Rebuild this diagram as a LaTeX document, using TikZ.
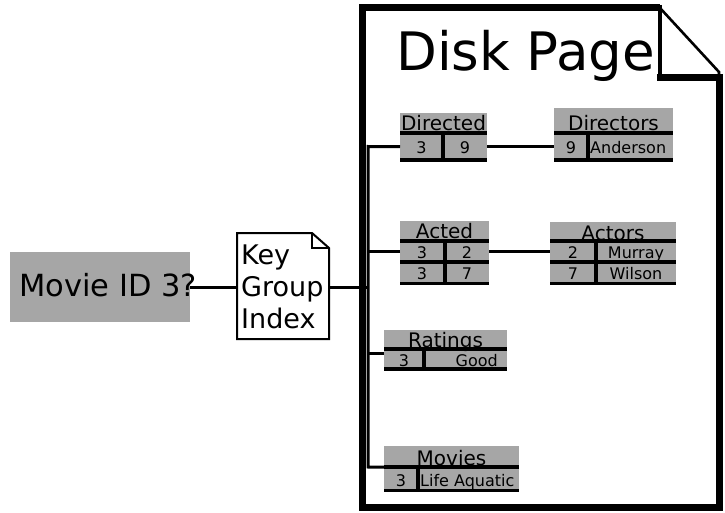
\documentclass[tikz,border=0pt]{standalone}
\usepackage{fontspec}
\setmainfont{DejaVu Sans}
\begin{document}
\begin{tikzpicture}[x=1pt,y=-1pt,
  tab/.style={fill=black!35, draw=none, inner sep=0pt, anchor=north west},
  rowbox/.style={draw=none, inner sep=0pt, anchor=north west},
  hdr/.style={font=\fontsize{20}{20}\selectfont, inner sep=0pt, anchor=base},
  val/.style={font=\fontsize{16}{16}\selectfont, inner sep=0pt, anchor=base},
  kgitx/.style={font=\fontsize{27}{27}\selectfont, inner sep=0pt, anchor=base west},
  tline/.style={line width=3.4pt},
  conn/.style={line width=3pt},
  thick page/.style={line width=7pt, line join=miter},
]
\useasboundingbox (0,0) rectangle (725,513);

% Disk page
\draw[thick page] (660,8) -- (362,8) -- (362,507) -- (719,507) -- (719,78) -- (657,78);
\draw[line width=4pt] (660,5) -- (660,81);
\draw[line width=2.6pt] (660,8) -- (719,72) -- (719,80);
\node[font=\fontsize{53}{53}\selectfont, inner sep=0pt, anchor=base west] (title) at (396,71) {Disk Page};

% Movie ID box
\node[tab, minimum width=180pt, minimum height=70pt] (movie) at (10,252) {};
\node[font=\fontsize{30.5}{30}\selectfont, inner sep=0pt, anchor=base west] (movietext) at (19,296) {Movie ID 3?};

% Key Group Index document
\draw[line width=2pt, fill=white] (237,233) -- (312,233) -- (329,248) -- (329,339) -- (237,339) -- cycle;
\draw[line width=1.5pt] (312,233) -- (312,248) -- (329,248);
\node[rowbox, minimum width=92pt, minimum height=106pt] (kgi) at (237,233) {};
\node[kgitx] (kgi1) at (241,264) {Key};
\node[kgitx] (kgi2) at (241,296) {Group};
\node[kgitx] (kgi3) at (241,328) {Index};

% Directed
\node[tab, minimum width=87pt, minimum height=47pt] (directed) at (400,113) {};
\node[rowbox, minimum width=87pt, minimum height=27pt] (dirrow) at (400,133) {};
\node[hdr] (dirh) at (443.5,131) {Directed};
\node[val] (dir3) at (421.5,154) {3};
\node[val] (dir9) at (465,154) {9};
\draw[tline] (400,133) -- (487,133) (400,160) -- (487,160) (443,133) -- (443,160);

% Directors
\node[tab, minimum width=119pt, minimum height=52pt] (directors) at (554,108) {};
\node[rowbox, minimum width=119pt, minimum height=27pt] (dirsrow) at (554,133) {};
\node[hdr] (dirsh) at (613.5,131) {Directors};
\node[val] (dirs9) at (571,154) {9};
\node[val, anchor=base west] (dirsa) at (590,154) {Anderson};
\draw[tline] (554,133) -- (673,133) (554,160) -- (673,160) (588,133) -- (588,160);

% Acted
\node[tab, minimum width=89pt, minimum height=63pt] (acted) at (400,221) {};
\node[rowbox, minimum width=89pt, minimum height=21pt] (actrow) at (400,241) {};
\node[hdr] (acth) at (444.5,238) {Acted};
\node[val] (act31) at (422,258) {3};
\node[val] (act2) at (467,258) {2};
\node[val] (act32) at (422,279) {3};
\node[val] (act7) at (467,279) {7};
\draw[tline] (400,241) -- (489,241) (400,262) -- (489,262) (400,283.5) -- (489,283.5) (445,241) -- (445,283.5);

% Actors
\node[tab, minimum width=126pt, minimum height=62pt] (actors) at (550,222) {};
\node[rowbox, minimum width=126pt, minimum height=21pt] (actsrow) at (550,241) {};
\node[hdr] (actsh) at (613,240) {Actors};
\node[val] (acts2) at (573,258) {2};
\node[val] (actsm) at (636,258) {Murray};
\node[val] (acts7) at (573,279) {7};
\node[val] (actsw) at (636,279) {Wilson};
\draw[tline] (550,241) -- (676,241) (550,262) -- (676,262) (550,283.5) -- (676,283.5) (596,241) -- (596,283.5);

% Ratings
\node[tab, minimum width=123pt, minimum height=39pt] (ratings) at (384,330) {};
\node[rowbox, minimum width=123pt, minimum height=8pt] (ratrow) at (384,349) {};
\node[hdr] (rath) at (445.5,347) {Ratings};
\node[val] (rat3) at (404,366) {3};
\node[val, anchor=base east] (ratg) at (498,366) {Good};
\draw[tline] (384,349) -- (507,349) (384,369) -- (507,369) (424,349) -- (424,369);

% Movies
\node[tab, minimum width=135pt, minimum height=45pt] (movies) at (384,446) {};
\node[rowbox, minimum width=135pt, minimum height=2pt] (movrow) at (384,466) {};
\node[hdr] (movh) at (451.5,465) {Movies};
\node[val] (mov3) at (401,486) {3};
\node[val, anchor=base west] (movl) at (420,486) {Life Aquatic};
\draw[tline] (384,467) -- (519,467) (384,490.5) -- (519,490.5) (418,467) -- (418,490.5);

% Connectors
\coordinate (bbtop) at (368,146.5);
\coordinate (bbbot) at (368,467);
\draw[conn] (movie.east) -- (kgi.west |- movie.east);
\draw[conn] (kgi.east |- movie.east) -- (bbtop |- movie.east);
\draw[conn, line join=miter] (dirrow.west) -- (bbtop) -- (bbbot) -- (movrow.west);
\draw[conn] (actrow.west) -- (actrow.west -| bbtop);
\draw[conn] (ratrow.west) -- (ratrow.west -| bbtop);
\draw[conn] (dirrow.east) -- (dirsrow.west);
\draw[conn] (actrow.east) -- (actsrow.west);
\end{tikzpicture}
\end{document}
